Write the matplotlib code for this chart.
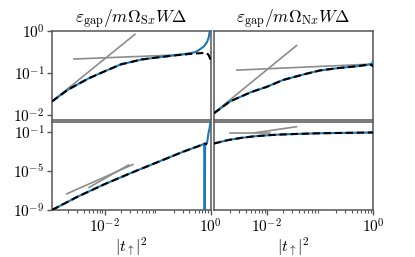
import matplotlib
matplotlib.use('Agg')
import matplotlib.pyplot as plt
from matplotlib.ticker import FuncFormatter, FixedLocator, LogLocator, NullLocator, NullFormatter
import numpy as np

plt.rcParams['mathtext.fontset'] = 'cm'
plt.rcParams['font.family'] = ['DejaVu Serif']

# ---------------- data ----------------
titles = [r'$\varepsilon_{\rm gap}/m\Omega_{{\rm S}x}W\Delta$',
          r'$\varepsilon_{\rm gap}/m\Omega_{{\rm N}x}W\Delta$']
xlabel = r'$|t_{\uparrow}|^2$'

# top-left (S, gap)
x_tl = [1e-3, 2e-3, 5e-3, 1e-2, 2e-2, 5e-2, 0.1, 0.2, 0.3, 0.5, 0.6, 0.75, 0.85, 0.92, 0.97, 0.99, 1.0]
tl_dashed = [0.021, 0.04, 0.075, 0.11, 0.16, 0.21, 0.235, 0.26, 0.275, 0.29, 0.295, 0.30, 0.295, 0.27, 0.23, 0.21, 0.19]
tl_blue = [0.021, 0.04, 0.075, 0.11, 0.16, 0.21, 0.235, 0.262, 0.28, 0.31, 0.35, 0.43, 0.53, 0.68, 1.0, 1.5, 3.0]
tl_gray1_x = [1e-3, 0.037]
tl_gray1_y = [0.021, 0.83]
tl_gray2_x = [0.0026, 0.35]
tl_gray2_y = [0.215, 0.275]

# top-right (N, gap)
x_tr = [1e-3, 2e-3, 5e-3, 1e-2, 2e-2, 5e-2, 0.1, 0.2, 0.5, 0.8, 0.95, 1.0]
tr_dashed = [0.011, 0.021, 0.035, 0.047, 0.068, 0.093, 0.115, 0.129, 0.145, 0.157, 0.155, 0.14]
tr_blue = [0.011, 0.021, 0.035, 0.047, 0.068, 0.093, 0.115, 0.129, 0.145, 0.157, 0.165, 0.19]
tr_gray1_x = [1e-3, 0.036]
tr_gray1_y = [0.0112, 0.45]
tr_gray2_x = [0.0027, 1.0]
tr_gray2_y = [0.117, 0.163]

# bottom-left (S)
x_bl_d = [1e-3, 3e-3, 1e-2, 3e-2, 0.1, 0.3, 0.6, 0.72, 0.76, 0.79, 0.82, 0.86]
bl_dashed = [1e-9, 2.2e-8, 4.5e-7, 5.6e-6, 7.9e-5, 8.9e-4, 3.5e-3, 5.2e-3, 6.0e-3, 6.3e-3, 6.0e-3, 5.0e-3]
x_bl_b = [1e-3, 3e-3, 1e-2, 3e-2, 0.1, 0.3, 0.6, 0.72, 0.76, 0.775, 0.79, 0.82, 0.86, 0.92, 0.97, 1.0]
bl_blue = [1e-9, 2.2e-8, 4.5e-7, 5.6e-6, 7.9e-5, 8.9e-4, 3.5e-3, 5.2e-3, 4.0e-3, 1e-12, 4.0e-3, 6.0e-3, 7.5e-3, 8e-2, 0.3, 1.5]
bl_gray1_x = [1.9e-3, 3.4e-2]
bl_gray1_y = [4.5e-8, 4.5e-5]
bl_gray2_x = [5e-3, 2.8e-2]
bl_gray2_y = [2e-7, 4e-5]

# bottom-right (N)
x_br = [1e-3, 1.8e-3, 3.2e-3, 5.6e-3, 1e-2, 1.8e-2, 3.7e-2, 0.1, 0.33, 0.8, 0.95, 1.0]
br_dashed = [6.3e-3, 1.38e-2, 2.34e-2, 3.39e-2, 4.37e-2, 5.25e-2, 6.03e-2, 7.08e-2, 7.76e-2, 8.3e-2, 8.3e-2, 8.1e-2]
br_blue = [6.3e-3, 1.38e-2, 2.34e-2, 3.39e-2, 4.37e-2, 5.25e-2, 6.03e-2, 7.08e-2, 7.76e-2, 8.3e-2, 8.8e-2, 0.117]
br_gray1_x = [2e-3, 1.15e-2]
br_gray1_y = [7.9e-2, 7.9e-2]
br_gray2_x = [6e-3, 3.6e-2]
br_gray2_y = [8e-2, 0.33]

# ---------------- figure ----------------
W, H = 415, 257
fig = plt.figure(figsize=(W / 100, H / 100), dpi=100)

def ax_at(x0, y0, x1, y1):
    return fig.add_axes([x0 / W, 1 - y1 / H, (x1 - x0) / W, (y1 - y0) / H])

ax_tl = ax_at(52, 31, 210.5, 120)
ax_tr = ax_at(214, 31, 373, 120)
ax_bl = ax_at(52, 122, 210.5, 210)
ax_br = ax_at(214, 122, 373, 210)

blue = '#1f77b4'
gray = '#8c8c8c'
spine_c = '#555555'

def fmt(v, pos):
    e = int(round(np.log10(v)))
    return r'$10^{%d}$' % e

def style(ax, top, left):
    ax.set_xscale('log')
    ax.set_yscale('log')
    ax.set_xlim(1e-3, 1.0)
    for s in ax.spines.values():
        s.set_color(spine_c)
        s.set_linewidth(1.1)
    ax.tick_params(colors=spine_c, labelcolor='black', labelsize=11, width=1.0, length=3.5, pad=2)
    ax.tick_params(which='minor', colors=spine_c, width=0.8, length=2)
    ax.yaxis.set_minor_locator(NullLocator())
    ax.xaxis.set_major_locator(FixedLocator([1e-2, 1.0]))
    ax.xaxis.set_minor_locator(LogLocator(base=10, subs=np.arange(2, 10) * 1.0, numticks=20))
    ax.xaxis.set_minor_formatter(NullFormatter())
    ax.xaxis.set_major_formatter(FuncFormatter(fmt))
    ax.yaxis.set_major_formatter(FuncFormatter(fmt))
    if top:
        ax.tick_params(axis='x', which='both', bottom=False, labelbottom=False)
        ax.set_ylim(10 ** -2.12, 1.0)
        ax.yaxis.set_major_locator(FixedLocator([1e-2, 1e-1, 1.0]))
    else:
        ax.set_ylim(1e-9, 1.0)
        ax.yaxis.set_major_locator(FixedLocator([1e-9, 1e-5, 1e-1]))
        ax.set_xlabel(xlabel, fontsize=11.5, labelpad=0)
    if not left:
        ax.tick_params(axis='y', which='both', left=False, labelleft=False)

for ax, top, left in [(ax_tl, True, True), (ax_tr, True, False), (ax_bl, False, True), (ax_br, False, False)]:
    style(ax, top, left)

def draw(ax, xb, yb, xd, yd, grays):
    for gx, gy in grays:
        ax.plot(gx, gy, color=gray, lw=1.2, zorder=2)
    ax.plot(xb, yb, color=blue, lw=1.5, zorder=3)
    ax.plot(xd, yd, color='black', lw=1.5, ls=(0, (3.5, 1.8)), zorder=4)

draw(ax_tl, x_tl, tl_blue, x_tl, tl_dashed, [(tl_gray1_x, tl_gray1_y), (tl_gray2_x, tl_gray2_y)])
draw(ax_tr, x_tr, tr_blue, x_tr, tr_dashed, [(tr_gray1_x, tr_gray1_y), (tr_gray2_x, tr_gray2_y)])
draw(ax_bl, x_bl_b, bl_blue, x_bl_d, bl_dashed, [(bl_gray1_x, bl_gray1_y), (bl_gray2_x, bl_gray2_y)])
draw(ax_br, x_br, br_blue, x_br, br_dashed, [(br_gray1_x, br_gray1_y), (br_gray2_x, br_gray2_y)])

ax_tl.set_title(titles[0], fontsize=12.5, pad=4)
ax_tr.set_title(titles[1], fontsize=12.5, pad=4)

fig.savefig('out.png', dpi=100)
